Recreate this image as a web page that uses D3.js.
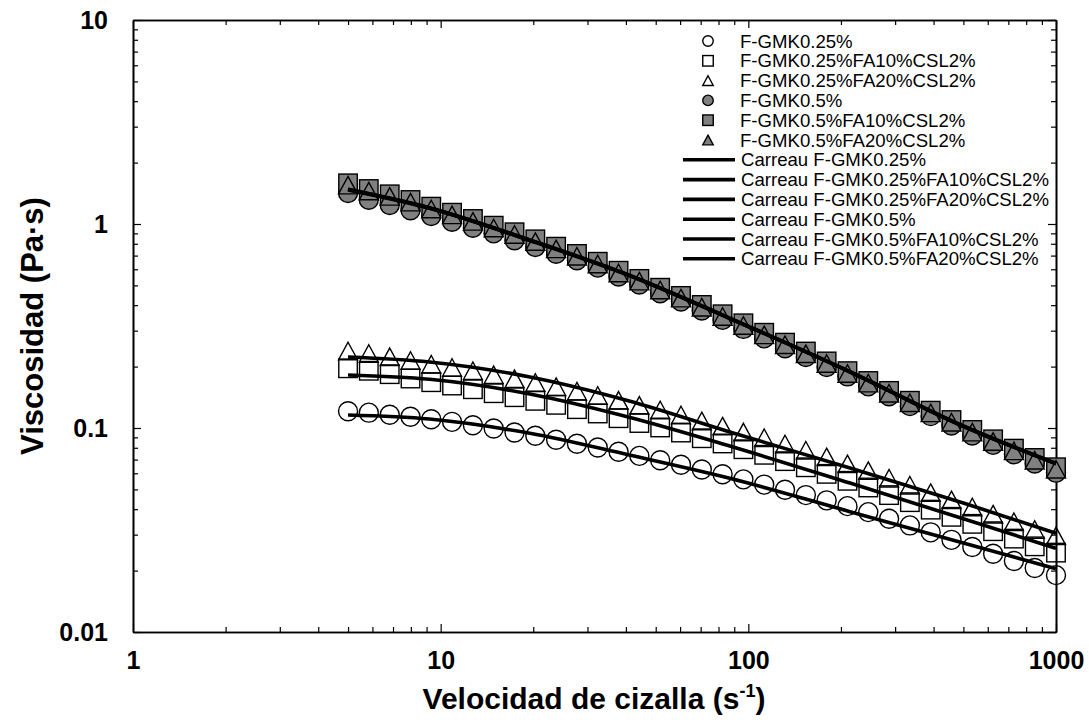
<!DOCTYPE html>
<html>
<head>
<meta charset="utf-8">
<script src="https://cdn.jsdelivr.net/npm/d3@7/dist/d3.min.js"></script>
<style>
  html, body { margin: 0; padding: 0; background: #fff; }
  svg { display: block; font-family: "Liberation Sans", Arial, sans-serif; }
</style>
</head>
<body>
<svg id="chart" width="1089" height="720"></svg>
<script>
// ---------------- DATA ----------------
const shearRates = [5, 5.84, 6.83, 7.98, 9.32, 10.89, 12.73, 14.87, 17.38, 20.31, 23.73, 27.73, 32.40, 37.86, 44.24, 51.70, 60.41, 70.59, 82.48, 96.38, 112.6, 131.6, 153.8, 179.7, 210.0, 245.4, 286.7, 335.0, 391.5, 457.4, 534.5, 624.6, 729.8, 852.8, 1000];

const seriesNames = ["F-GMK0.25%", "F-GMK0.25%FA10%CSL2%", "F-GMK0.25%FA20%CSL2%", "F-GMK0.5%", "F-GMK0.5%FA10%CSL2%", "F-GMK0.5%FA20%CSL2%"];
const seriesShapes = ["circle", "square", "triangle", "circle", "square", "triangle"];
const seriesFilled = [false, false, false, true, true, true];

const gmk025 = [0.1209, 0.1189, 0.1161, 0.1135, 0.1104, 0.1072, 0.1032, 0.0994, 0.0950, 0.0916, 0.0876, 0.0837, 0.0802, 0.0765, 0.0730, 0.0695, 0.0660, 0.0626, 0.0593, 0.0560, 0.0528, 0.0498, 0.0469, 0.0442, 0.0414, 0.0387, 0.0359, 0.0333, 0.0308, 0.0283, 0.0261, 0.0242, 0.0223, 0.0206, 0.0190];
const gmk025fa10 = [0.1962, 0.1908, 0.1836, 0.1748, 0.1677, 0.1615, 0.1549, 0.1481, 0.1416, 0.1359, 0.1299, 0.1237, 0.1178, 0.1117, 0.1058, 0.1006, 0.0950, 0.0891, 0.0840, 0.0787, 0.0739, 0.0688, 0.0642, 0.0596, 0.0551, 0.0511, 0.0469, 0.0433, 0.0398, 0.0367, 0.0339, 0.0312, 0.0287, 0.0263, 0.0245];
const gmk025fa20 = [0.2385, 0.2318, 0.2234, 0.2142, 0.2054, 0.1980, 0.1908, 0.1823, 0.1742, 0.1671, 0.1594, 0.1515, 0.1443, 0.1367, 0.1292, 0.1225, 0.1158, 0.1083, 0.1021, 0.0955, 0.0896, 0.0835, 0.0778, 0.0722, 0.0667, 0.0618, 0.0567, 0.0524, 0.0482, 0.0444, 0.0410, 0.0378, 0.0347, 0.0318, 0.0296];
const gmk05 = [1.420, 1.315, 1.239, 1.167, 1.094, 1.026, 0.959, 0.900, 0.832, 0.772, 0.715, 0.664, 0.611, 0.553, 0.505, 0.458, 0.417, 0.377, 0.339, 0.306, 0.275, 0.246, 0.223, 0.199, 0.179, 0.160, 0.143, 0.128, 0.1143, 0.1028, 0.0919, 0.0827, 0.0744, 0.0670, 0.0604];
const gmk05fa10 = [1.583, 1.484, 1.398, 1.311, 1.216, 1.136, 1.058, 0.981, 0.911, 0.841, 0.774, 0.713, 0.653, 0.590, 0.538, 0.487, 0.444, 0.401, 0.361, 0.326, 0.293, 0.262, 0.237, 0.212, 0.190, 0.170, 0.152, 0.136, 0.1216, 0.1094, 0.0978, 0.0880, 0.0792, 0.0713, 0.0642];
const gmk05fa20 = [1.550, 1.450, 1.365, 1.280, 1.185, 1.108, 1.030, 0.956, 0.888, 0.820, 0.755, 0.695, 0.637, 0.575, 0.525, 0.475, 0.433, 0.391, 0.352, 0.318, 0.286, 0.256, 0.231, 0.207, 0.185, 0.166, 0.148, 0.133, 0.1186, 0.1067, 0.0954, 0.0858, 0.0772, 0.0695, 0.0628];

// Carreau fit curves
const fitShearRates = [5, 9.2, 19.5, 41, 87, 214, 500, 1000];
const fitNames = ["Carreau F-GMK0.25%", "Carreau F-GMK0.25%FA10%CSL2%", "Carreau F-GMK0.25%FA20%CSL2%", "Carreau F-GMK0.5%", "Carreau F-GMK0.5%FA10%CSL2%", "Carreau F-GMK0.5%FA20%CSL2%"];
const fit025 = [0.1158, 0.1107, 0.0942, 0.0737, 0.0567, 0.0389, 0.0273, 0.0204];
const fit025fa10 = [0.1819, 0.1733, 0.1468, 0.1129, 0.0816, 0.0537, 0.0359, 0.0257];
const fit025fa20 = [0.2228, 0.2106, 0.1778, 0.1356, 0.0956, 0.0637, 0.0429, 0.0305];
const fit05 = [1.470, 1.195, 0.830, 0.559, 0.344, 0.188, 0.1018, 0.0668];
const fit05fa10 = [1.480, 1.202, 0.835, 0.562, 0.346, 0.189, 0.1023, 0.0671];
const fit05fa20 = [1.475, 1.198, 0.832, 0.560, 0.345, 0.1885, 0.1020, 0.0670];

const xTickLabels = ["1", "10", "100", "1000"];
const yTickLabels = ["0.01", "0.1", "1", "10"];
const xTitle = "Velocidad de cizalla (s";
const xTitleSup = "-1";
const yTitle = "Viscosidad (Pa·s)";

// ---------------- SETUP ----------------
const seriesValues = [gmk025, gmk025fa10, gmk025fa20, gmk05, gmk05fa10, gmk05fa20];
const fitValues = [fit025, fit025fa10, fit025fa20, fit05, fit05fa10, fit05fa20];

const W = 1089, H = 720;
const L = 133, R = 1056, T = 20, B = 632;
const svg = d3.select("#chart");
svg.append("rect").attr("width", W).attr("height", H).attr("fill", "#fff");

const x = d3.scaleLog().domain([1, 1000]).range([L, R]);
const y = d3.scaleLog().domain([0.01, 10]).range([B, T]);

const majorX = xTickLabels.map(Number);
const majorY = yTickLabels.map(Number);
const minorX = [];
for (let d = 1; d < 1000; d *= 10) for (let m = 2; m <= 9; m++) minorX.push(d * m);
const minorY = [];
for (let d = 0.01; d < 9; d *= 10) for (let m = 2; m <= 9; m++) minorY.push(+(d * m).toPrecision(3));

const majLen = 8, minLen = 5;
function styleAxis(g) {
  g.select(".domain").attr("stroke", "#000").attr("stroke-width", 1.6);
  g.selectAll(".tick line").attr("stroke", "#000").attr("stroke-width", 1.2);
}
const tickFont = 25;

// bottom
const gB1 = svg.append("g").attr("transform", `translate(0,${B})`)
  .call(d3.axisBottom(x).tickValues(minorX).tickSizeInner(-minLen).tickSizeOuter(0).tickFormat(""));
styleAxis(gB1);
const gB2 = svg.append("g").attr("transform", `translate(0,${B})`)
  .call(d3.axisBottom(x).tickValues(majorX).tickSizeInner(-majLen).tickSizeOuter(0)
    .tickPadding(19).tickFormat((d, i) => xTickLabels[i]));
styleAxis(gB2);
gB2.selectAll(".tick text").attr("font-size", tickFont).attr("font-weight", "bold").attr("fill", "#000")
  .attr("font-family", "Liberation Sans, Arial, sans-serif");

// top
const gT1 = svg.append("g").attr("transform", `translate(0,${T})`)
  .call(d3.axisTop(x).tickValues(minorX).tickSizeInner(-minLen).tickSizeOuter(0).tickFormat(""));
styleAxis(gT1);
const gT2 = svg.append("g").attr("transform", `translate(0,${T})`)
  .call(d3.axisTop(x).tickValues(majorX).tickSizeInner(-majLen).tickSizeOuter(0).tickFormat(""));
styleAxis(gT2);

// left
const gL1 = svg.append("g").attr("transform", `translate(${L},0)`)
  .call(d3.axisLeft(y).tickValues(minorY).tickSizeInner(-minLen).tickSizeOuter(0).tickFormat(""));
styleAxis(gL1);
const gL2 = svg.append("g").attr("transform", `translate(${L},0)`)
  .call(d3.axisLeft(y).tickValues(majorY).tickSizeInner(-majLen).tickSizeOuter(0)
    .tickPadding(25).tickFormat((d, i) => yTickLabels[i]));
styleAxis(gL2);
gL2.selectAll(".tick text").attr("font-size", tickFont).attr("font-weight", "bold").attr("fill", "#000")
  .attr("font-family", "Liberation Sans, Arial, sans-serif");

// right
const gR1 = svg.append("g").attr("transform", `translate(${R},0)`)
  .call(d3.axisRight(y).tickValues(minorY).tickSizeInner(-minLen).tickSizeOuter(0).tickFormat(""));
styleAxis(gR1);
const gR2 = svg.append("g").attr("transform", `translate(${R},0)`)
  .call(d3.axisRight(y).tickValues(majorY).tickSizeInner(-majLen).tickSizeOuter(0).tickFormat(""));
styleAxis(gR2);

// axis titles
const xt = svg.append("text").attr("x", 594).attr("y", 709).attr("text-anchor", "middle")
  .attr("font-size", 30).attr("font-weight", "bold").attr("fill", "#000");
xt.append("tspan").text(xTitle);
xt.append("tspan").attr("font-size", 18).attr("dy", -12).text(xTitleSup);
xt.append("tspan").attr("dy", 12).text(")");

svg.append("text").attr("transform", `translate(43,${326}) rotate(-90)`)
  .attr("text-anchor", "middle").attr("font-size", 31).attr("font-weight", "bold").attr("fill", "#000")
  .text(yTitle);

// ---------------- MARKERS ----------------
function drawMarker(g, shape, cx, cy, size, filled) {
  const fill = filled ? "#808080" : "none";
  const sw = 1.4;
  if (shape === "circle") {
    g.append("circle").attr("cx", cx).attr("cy", cy).attr("r", size / 2)
      .attr("fill", fill).attr("stroke", "#000").attr("stroke-width", sw);
  } else if (shape === "square") {
    g.append("rect").attr("x", cx - size / 2).attr("y", cy - size / 2)
      .attr("width", size).attr("height", size)
      .attr("fill", fill).attr("stroke", "#000").attr("stroke-width", sw);
  } else {
    const h = size * 0.92;
    const pts = [[cx, cy - h / 2], [cx + size / 2, cy + h / 2], [cx - size / 2, cy + h / 2]];
    g.append("polygon").attr("points", pts.map(p => p.join(",")).join(" "))
      .attr("fill", fill).attr("stroke", "#000").attr("stroke-width", sw);
  }
}

const markerSize = { circle: 19, square: 18.5, triangle: 19 };
const gm = svg.append("g");
seriesValues.forEach((vals, si) => {
  const g = gm.append("g");
  vals.forEach((v, i) => {
    drawMarker(g, seriesShapes[si], x(shearRates[i]), y(v), markerSize[seriesShapes[si]], seriesFilled[si]);
  });
});

// ---------------- FIT LINES ----------------
const line = d3.line()
  .x((d, i) => x(fitShearRates[i]))
  .y(d => y(d))
  .curve(d3.curveMonotoneX);
const gf = svg.append("g");
fitValues.forEach(vals => {
  gf.append("path").attr("d", line(vals)).attr("fill", "none")
    .attr("stroke", "#000").attr("stroke-width", 3.6).attr("stroke-linecap", "butt");
});

// ---------------- LEGEND ----------------
const lg = svg.append("g");
const legY0 = 41, legDy = 19.8;
seriesNames.forEach((name, i) => {
  const cy = legY0 + i * legDy;
  drawMarker(lg, seriesShapes[i], 708, cy, 10.5, seriesFilled[i]);
  lg.append("text").attr("x", 740).attr("y", cy).attr("dy", "0.35em")
    .attr("font-size", 18.6).attr("fill", "#000").text(name);
});
fitNames.forEach((name, i) => {
  const cy = legY0 + (i + 6) * legDy;
  lg.append("line").attr("x1", 683).attr("x2", 735).attr("y1", cy).attr("y2", cy)
    .attr("stroke", "#000").attr("stroke-width", 3.6);
  lg.append("text").attr("x", 741).attr("y", cy).attr("dy", "0.35em")
    .attr("font-size", 18.6).attr("fill", "#000").text(name);
});
</script>
</body>
</html>
